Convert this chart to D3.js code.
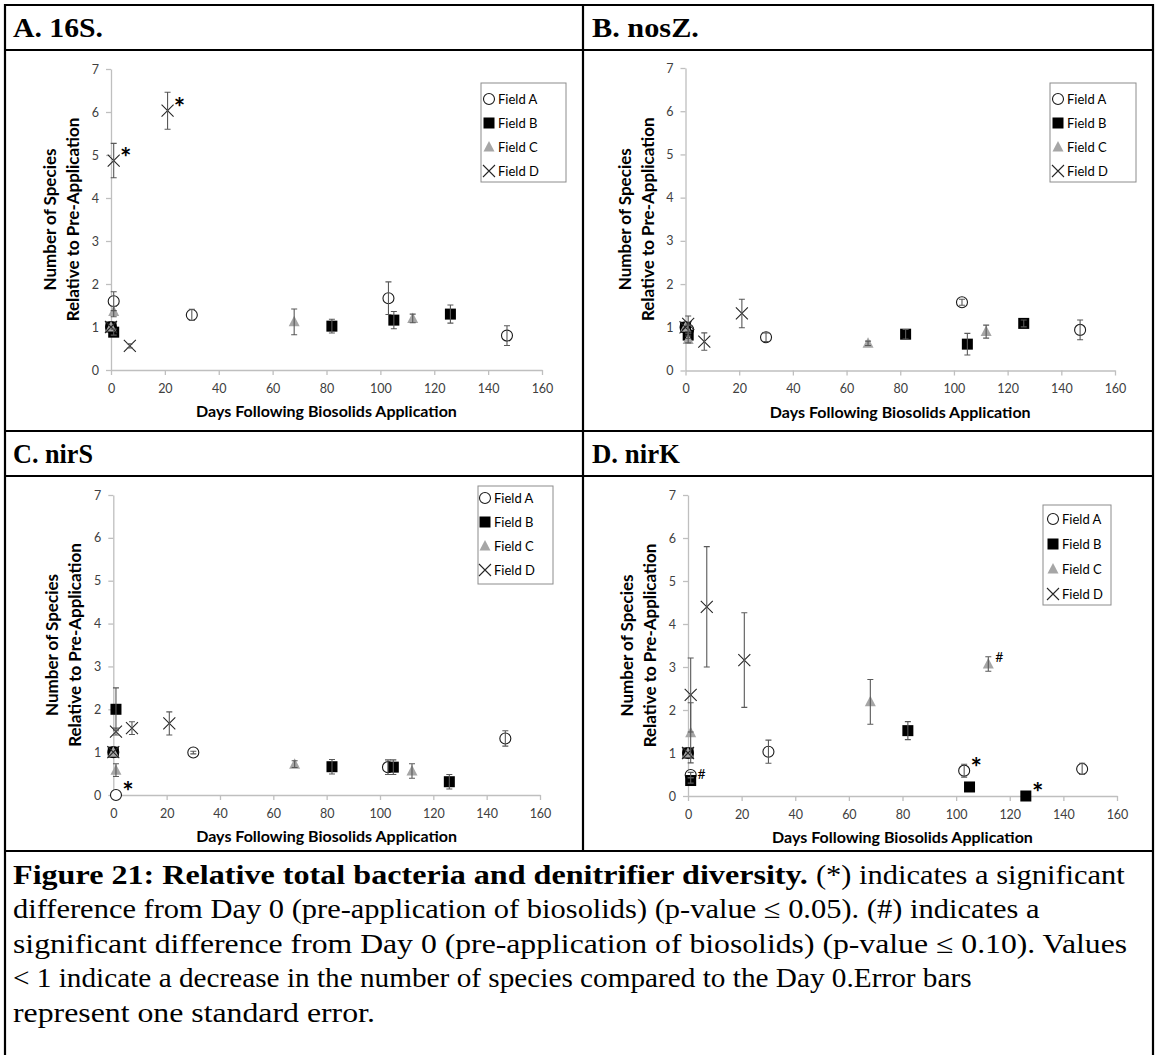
<!DOCTYPE html>
<html>
<head>
<meta charset="utf-8">
<script src="https://cdn.jsdelivr.net/npm/d3@7"></script>
<style>
  body { margin: 0; background: #fff; }
  svg text { font-family: Lato, "Open Sans", sans-serif; }
</style>
</head>
<body>
<svg id="fig" width="1158" height="1055"></svg>
<script>
// ---------------- data ----------------
const fieldNames   = ["Field A", "Field B", "Field C", "Field D"];
const panelTitles  = ["A. 16S.", "B. nosZ.", "C. nirS", "D. nirK"];
const xTickValues  = [0, 20, 40, 60, 80, 100, 120, 140, 160];
const yTickValues  = [0, 1, 2, 3, 4, 5, 6, 7];
const xAxisTitle   = "Days Following Biosolids Application";
const yAxisTitle1  = "Number of Species";
const yAxisTitle2  = "Relative to Pre-Application";

// sampling days for each field
const daysFieldA = [0, 1, 30, 103, 147];
const daysFieldB = [0, 1, 82, 105, 126];
const daysFieldC = [0, 1, 68, 112];
const daysFieldD = [0, 1, 7, 21];

// A. 16S — mean relative species number and standard error
const s16FieldA = [1, 1.60, 1.28, 1.67, 0.80], s16FieldA_se = [0, 0.22, 0.13, 0.38, 0.23];
const s16FieldB = [1, 0.88, 1.02, 1.16, 1.30], s16FieldB_se = [0, 0.07, 0.16, 0.20, 0.21];
const s16FieldC = [1, 1.36, 1.12, 1.20],       s16FieldC_se = [0, 0.12, 0.30, 0.10];
const s16FieldD = [1, 4.87, 0.56, 6.03],       s16FieldD_se = [0, 0.40, 0.05, 0.43];

// B. nosZ
const nosZFieldA = [1, 0.95, 0.77, 1.58, 0.94], nosZFieldA_se = [0, 0.10, 0.10, 0.07, 0.23];
const nosZFieldB = [1, 0.82, 0.84, 0.61, 1.09], nosZFieldB_se = [0, 0.08, 0.11, 0.25, 0.08];
const nosZFieldC = [1, 0.72, 0.63, 0.90],       nosZFieldC_se = [0, 0.08, 0.05, 0.15];
const nosZFieldD = [1, 1.08, 0.67, 1.32],       nosZFieldD_se = [0, 0.18, 0.20, 0.33];

// C. nirS
const nirSFieldA = [1, 0.00, 0.99, 0.65, 1.32], nirSFieldA_se = [0, 0, 0.03, 0.17, 0.18];
const nirSFieldB = [1, 2.00, 0.66, 0.65, 0.31], nirSFieldB_se = [0, 0.50, 0.17, 0.17, 0.17];
const nirSFieldC = [1, 0.58, 0.72, 0.56],       nirSFieldC_se = [0, 0.15, 0.08, 0.17];
const nirSFieldD = [1, 1.48, 1.56, 1.67],       nirSFieldD_se = [0, 0.08, 0.15, 0.27];

// D. nirK
const nirKFieldA = [1, 0.49, 1.03, 0.59, 0.63], nirKFieldA_se = [0, 0.06, 0.27, 0.15, 0.13];
const nirKFieldB = [1, 0.36, 1.52, 0.21, 0.00], nirKFieldB_se = [0, 0.06, 0.21, 0, 0];
const nirKFieldC = [1, 1.47, 2.19, 3.07],       nirKFieldC_se = [0, 0.70, 0.52, 0.17];
const nirKFieldD = [1, 2.35, 4.40, 3.16],       nirKFieldD_se = [0, 0.86, 1.40, 1.10];

// significance markers: (*) p <= 0.05, (#) p <= 0.10
const sig16S  = [["Field D", 1, "*"], ["Field D", 21, "*"]];
const sigNosZ = [];
const sigNirS = [["Field A", 1, "*"]];
const sigNirK = [["Field B", 1, "#"], ["Field C", 112, "#"], ["Field A", 103, "*"], ["Field B", 126, "*"]];

const captionBold = "Figure 21: Relative total bacteria and denitrifier diversity.";
const captionLines = [
  "(*) indicates a significant",
  "difference from Day 0 (pre-application of biosolids) (p-value \u2264 0.05). (#) indicates a",
  "significant difference from Day 0 (pre-application of biosolids) (p-value \u2264 0.10). Values",
  "< 1 indicate a decrease in the number of species compared to the Day 0.Error bars",
  "represent one standard error."
];

// ---------------- assemble ----------------
const fieldDays = [daysFieldA, daysFieldB, daysFieldC, daysFieldD];
function seriesOf(means, errs) {
  return means.map((m, f) => ({
    field: fieldNames[f],
    points: fieldDays[f].map((d, i) => ({ day: d, value: m[i], se: errs[f][i] }))
  }));
}
const panelSeries = [
  seriesOf([s16FieldA, s16FieldB, s16FieldC, s16FieldD], [s16FieldA_se, s16FieldB_se, s16FieldC_se, s16FieldD_se]),
  seriesOf([nosZFieldA, nosZFieldB, nosZFieldC, nosZFieldD], [nosZFieldA_se, nosZFieldB_se, nosZFieldC_se, nosZFieldD_se]),
  seriesOf([nirSFieldA, nirSFieldB, nirSFieldC, nirSFieldD], [nirSFieldA_se, nirSFieldB_se, nirSFieldC_se, nirSFieldD_se]),
  seriesOf([nirKFieldA, nirKFieldB, nirKFieldC, nirKFieldD], [nirKFieldA_se, nirKFieldB_se, nirKFieldC_se, nirKFieldD_se])
];
const panelSig = [sig16S, sigNosZ, sigNirS, sigNirK];

// plot frames, header widths and legend boxes for the four embedded charts
const frames = [
  { x0: 111,   x1: 542,  yTop: 69,  yBot: 370,   hx: 13,  hy: 37,  hw: 90,
    lg: { x: 481,  y: 83,  w: 85, h: 99,  row0: 99,  step: 24, mx: 489 } },
  { x0: 685.5, x1: 1115, yTop: 68,  yBot: 370.5, hx: 592, hy: 37,  hw: 107,
    lg: { x: 1050, y: 83,  w: 86, h: 99,  row0: 99,  step: 24, mx: 1058 } },
  { x0: 113.3, x1: 540,  yTop: 495, yBot: 795,   hx: 13,  hy: 463, hw: 80,
    lg: { x: 478,  y: 486, w: 75, h: 98,  row0: 498, step: 24, mx: 485 } },
  { x0: 688,   x1: 1117, yTop: 495, yBot: 796,   hx: 592, hy: 463, hw: 88,
    lg: { x: 1043, y: 505, w: 68, h: 100, row0: 519, step: 25, mx: 1053 } }
];

const svg = d3.select("#fig");
const AXIS_GRAY = "#bfbfbf";
const TEXT_GRAY = "#404040";
const SERIF = "'Liberation Serif', serif";

// squeeze or stretch a text element horizontally to a given printed width
function fitWidth(t, x, y, width) {
  const w = t.node().getComputedTextLength();
  t.attr("x", 0).attr("y", 0).attr("transform", `translate(${x},${y}) scale(${width / w},1)`);
  return width / w;
}

// marker drawing per field
function drawMarker(g, field, cx, cy) {
  if (field === "Field A") {
    g.append("circle").attr("cx", cx).attr("cy", cy).attr("r", 5.5)
      .attr("fill", "#fff").attr("stroke", "#1a1a1a").attr("stroke-width", 1.1);
  } else if (field === "Field B") {
    g.append("rect").attr("x", cx - 5.5).attr("y", cy - 5.5).attr("width", 11).attr("height", 11)
      .attr("fill", "#000");
  } else if (field === "Field C") {
    g.append("path").attr("d", `M${cx},${cy - 6}L${cx + 5.5},${cy + 4.5}L${cx - 5.5},${cy + 4.5}Z`)
      .attr("fill", "#a6a6a6");
  } else {
    const s = 6;
    g.append("path").attr("d", `M${cx - s},${cy - s}L${cx + s},${cy + s}M${cx - s},${cy + s}L${cx + s},${cy - s}`)
      .attr("stroke", "#262626").attr("stroke-width", 1.1).attr("fill", "none");
  }
}

frames.forEach((fr, p) => {
  const x = d3.scaleLinear().domain([0, 160]).range([fr.x0, fr.x1]);
  const y = d3.scaleLinear().domain([0, 7]).range([fr.yBot, fr.yTop]);
  const g = svg.append("g");

  // panel header
  const ht = svg.append("text").style("font-family", SERIF).style("font-weight", "bold")
    .style("font-size", "27px").attr("fill", "#000").text(panelTitles[p]);
  fitWidth(ht, fr.hx, fr.hy, fr.hw);

  // axes
  const ya = g.append("g").attr("transform", `translate(${fr.x0},0)`)
    .call(d3.axisLeft(y).tickValues(yTickValues).tickSize(5).tickSizeOuter(0).tickPadding(7).tickFormat(d3.format("d")));
  const xa = g.append("g").attr("transform", `translate(0,${fr.yBot})`)
    .call(d3.axisBottom(x).tickValues(xTickValues).tickSize(5).tickSizeOuter(0).tickPadding(9).tickFormat(d3.format("d")));
  [ya, xa].forEach(a => {
    a.select(".domain").attr("stroke", AXIS_GRAY).attr("stroke-width", 1.3);
    a.selectAll(".tick line").attr("stroke", AXIS_GRAY).attr("stroke-width", 1.3);
    a.selectAll(".tick text").attr("fill", TEXT_GRAY).style("font-size", "12.5px");
  });

  // axis titles
  const midY = (fr.yTop + fr.yBot) / 2;
  g.append("text").attr("transform", `translate(${fr.x0 - 55},${midY}) rotate(-90)`)
    .attr("text-anchor", "middle").style("font-size", "17px").style("font-weight", "bold")
    .attr("fill", "#000").text(yAxisTitle1);
  g.append("text").attr("transform", `translate(${fr.x0 - 32},${midY}) rotate(-90)`)
    .attr("text-anchor", "middle").style("font-size", "17px").style("font-weight", "bold")
    .attr("fill", "#000").text(yAxisTitle2);
  g.append("text").attr("x", (fr.x0 + fr.x1) / 2).attr("y", fr.yBot + 47)
    .attr("text-anchor", "middle").style("font-size", "16px").style("font-weight", "bold")
    .attr("fill", "#000").text(xAxisTitle);

  // markers (series A..D in order)
  const series = panelSeries[p];
  series.forEach(s => {
    const sg = g.append("g");
    s.points.forEach(pt => drawMarker(sg, s.field, x(pt.day), y(pt.value)));
  });
  // error bars on top of markers
  series.forEach(s => {
    const eg = g.append("g").attr("stroke", "#595959").attr("stroke-width", 1.1).attr("fill", "none");
    s.points.filter(pt => pt.se > 0).forEach(pt => {
      const cx = x(pt.day), hi = y(pt.value + pt.se), lo = y(Math.max(0, pt.value - pt.se));
      eg.append("path").attr("d",
        `M${cx},${hi}L${cx},${lo}M${cx - 3},${hi}L${cx + 3},${hi}M${cx - 3},${lo}L${cx + 3},${lo}`);
    });
  });

  // significance symbols
  panelSig[p].forEach(([field, day, sym]) => {
    const s = series.find(d => d.field === field);
    const pt = s.points.find(d => d.day === day);
    const cx = x(day), cy = y(pt.value);
    if (sym === "*") {
      g.append("text").attr("x", cx + 12).attr("y", cy + 6).attr("text-anchor", "middle")
        .style("font-size", "27px").style("font-weight", "bold").attr("fill", "#000").text("*");
    } else {
      g.append("text").attr("x", cx + 11).attr("y", cy - 2).attr("text-anchor", "middle")
        .style("font-size", "14px").attr("fill", "#000").text("#");
    }
  });

  // legend
  const lg = fr.lg;
  const L = g.append("g");
  L.append("rect").attr("x", lg.x).attr("y", lg.y).attr("width", lg.w).attr("height", lg.h)
    .attr("fill", "#fff").attr("stroke", "#8c8c8c").attr("stroke-width", 1);
  fieldNames.forEach((f, i) => {
    const ry = lg.row0 + i * lg.step;
    drawMarker(L, f, lg.mx, ry);
    L.append("text").attr("x", lg.mx + 9).attr("y", ry + 4.5)
      .style("font-size", "13px").attr("fill", "#000").text(f);
  });
});

// table rules around the panels and caption
const rules = svg.append("g").attr("stroke", "#000").attr("stroke-width", 2.2);
[[5, 5, 1153, 5], [5, 50, 1153, 50], [5, 431, 1153, 431], [5, 476, 1153, 476], [5, 851, 1153, 851],
 [5, 4, 5, 1055], [1153, 4, 1153, 1055], [583, 5, 583, 851]].forEach(([a, b, c, d]) =>
  rules.append("line").attr("x1", a).attr("y1", b).attr("x2", c).attr("y2", d));

// caption: full lines fitted to their printed widths
const capStyle = t => t.style("font-family", SERIF).style("font-size", "27px").attr("fill", "#000");
const captionBase = [884, 918, 953, 987, 1022];
const lineEnds = [1125, 1040, 1128, 972, 375];
const scales = [];
for (let i = 1; i < captionLines.length; i++) {
  scales.push(fitWidth(capStyle(svg.append("text")).text(captionLines[i]), 13, captionBase[i], lineEnds[i] - 13));
}
// first line: regular run at the body's compression, bold run fills the rest
const bodyScale = d3.mean(scales.slice(0, 3));
const reg = capStyle(svg.append("text")).text(captionLines[0]);
const regW = reg.node().getComputedTextLength() * bodyScale;
const regStart = lineEnds[0] - regW;
reg.attr("transform", `translate(${regStart},${captionBase[0]}) scale(${bodyScale},1)`);
const spaceW = 6.75 * bodyScale;
fitWidth(capStyle(svg.append("text")).style("font-weight", "bold").text(captionBold),
  13, captionBase[0], regStart - spaceW - 13);
</script>
</body>
</html>
